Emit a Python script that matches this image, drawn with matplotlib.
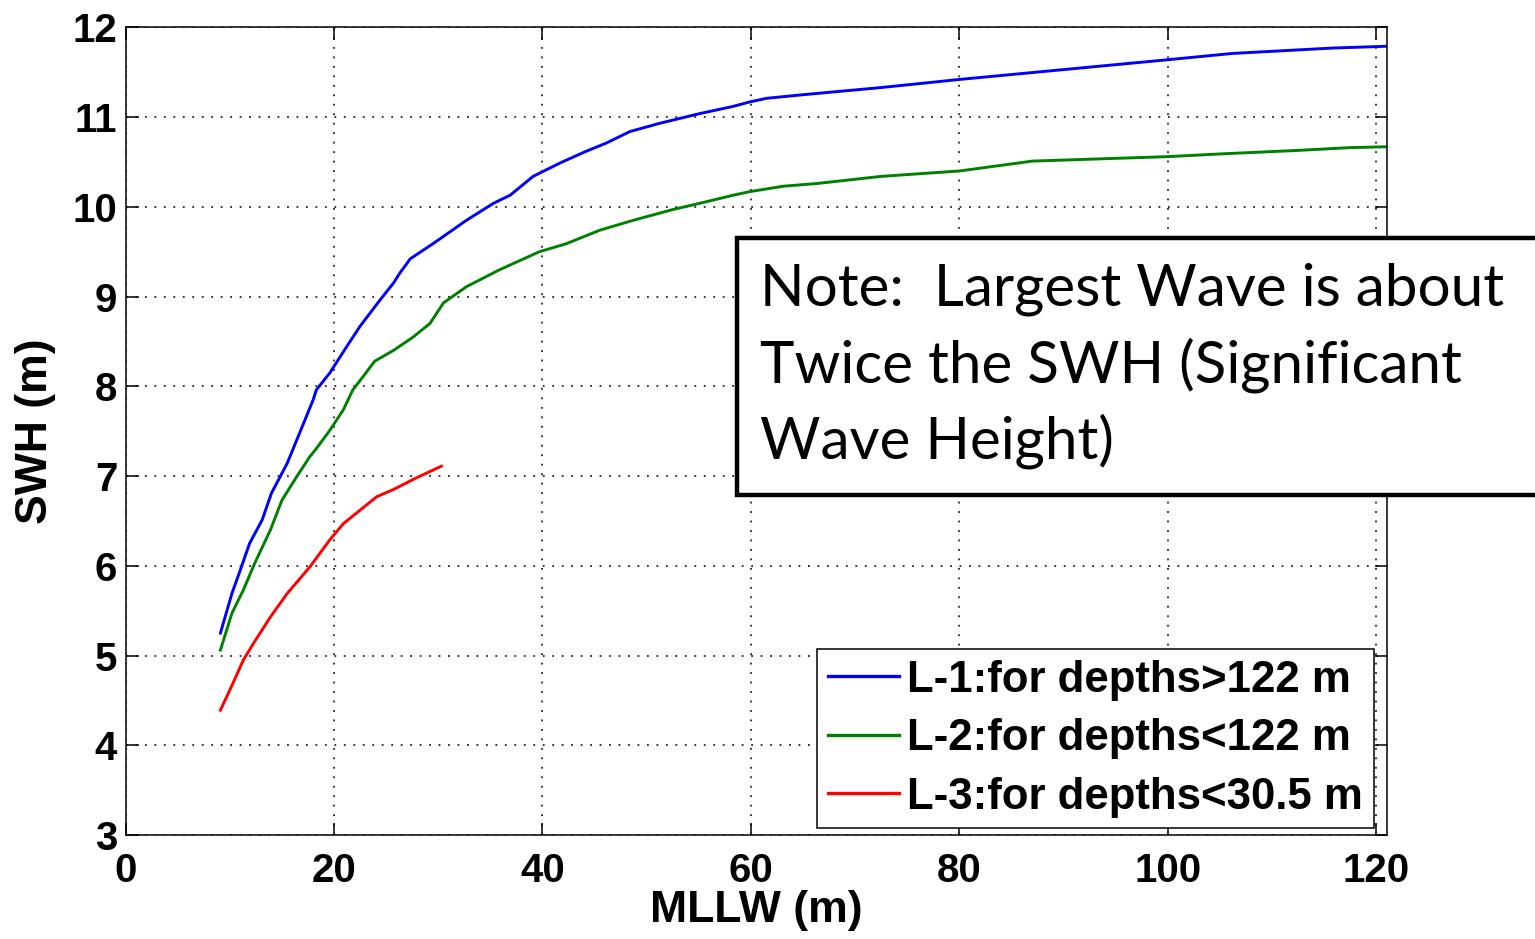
import matplotlib
matplotlib.use("Agg")
import matplotlib.pyplot as plt
from matplotlib.patches import Rectangle

# L-1: depths > 122 m
mllw_l1 = [9.1, 10.2, 11.0, 11.9, 13.1, 14.0, 15.5, 16.7, 18.0, 18.3, 19.6, 21.2, 22.5, 24.4, 25.7,
           26.3, 27.0, 27.3, 29.5, 32.7, 35.3, 36.9, 39.1, 41.7, 44.2, 46.1, 48.4, 51.2, 55.1, 58.3,
           59.9, 61.5, 65.0, 72.5, 80.0, 90.0, 100.0, 106.2, 109.4, 112.6, 115.8, 121.0]
swh_l1 = [5.25, 5.69, 5.95, 6.25, 6.51, 6.81, 7.14, 7.48, 7.85, 7.96, 8.15, 8.44, 8.67, 8.96, 9.15,
          9.26, 9.37, 9.42, 9.59, 9.85, 10.04, 10.13, 10.34, 10.49, 10.62, 10.71, 10.84, 10.93, 11.04, 11.12,
          11.17, 11.21, 11.25, 11.33, 11.42, 11.53, 11.64, 11.71, 11.73, 11.75, 11.77, 11.79]

# L-2: depths < 122 m
mllw_l2 = [9.1, 10.2, 11.3, 12.4, 13.9, 15.0, 16.4, 17.7, 18.2, 19.6, 20.9, 21.8, 22.8, 23.9, 25.7,
           27.6, 29.2, 30.5, 32.7, 35.9, 39.7, 42.3, 45.5, 48.7, 52.5, 55.1, 58.3, 59.9, 63.1, 66.3,
           72.5, 80.0, 87.0, 100.0, 105.0, 112.6, 117.4, 121.0]
swh_l2 = [5.06, 5.47, 5.73, 6.03, 6.40, 6.73, 6.99, 7.22, 7.29, 7.51, 7.74, 7.96, 8.11, 8.28, 8.40,
          8.55, 8.70, 8.93, 9.11, 9.30, 9.50, 9.59, 9.74, 9.85, 9.97, 10.04, 10.13, 10.17, 10.23, 10.26,
          10.34, 10.40, 10.51, 10.56, 10.59, 10.63, 10.66, 10.67]

# L-3: depths < 30.5 m
mllw_l3 = [9.1, 10.3, 11.3, 12.3, 13.9, 15.5, 17.7, 19.6, 20.9, 22.5, 24.1, 25.7, 27.9, 30.3]
swh_l3 = [4.39, 4.69, 4.95, 5.14, 5.43, 5.69, 5.99, 6.29, 6.47, 6.62, 6.77, 6.85, 6.98, 7.11]

labels = ["L-1:for depths>122 m", "L-2:for depths<122 m", "L-3:for depths<30.5 m"]
note = "Note:  Largest Wave is about\nTwice the SWH (Significant\nWave Height)"

plt.rcParams['font.family'] = ['Liberation Sans', 'DejaVu Sans']

fig = plt.figure(figsize=(15.35, 9.39), dpi=100)
fig.set_facecolor("white")
ax = fig.add_axes([0.0818, 0.1108, 0.8216, 0.86])

ax.plot(mllw_l1, swh_l1, color=(0, 0, 1), lw=2.1, label=labels[0])
ax.plot(mllw_l2, swh_l2, color=(0, 0.5, 0), lw=2.1, label=labels[1])
ax.plot(mllw_l3, swh_l3, color=(1, 0, 0), lw=2.1, label=labels[2])

ax.set_xlim(0, 121)
ax.set_ylim(3, 12)
ax.set_xticks(range(0, 121, 20))
ax.set_yticks(range(3, 13))
ax.grid(True, color='k', linestyle=(0, (1.2, 5)), lw=1.1)
ax.tick_params(direction='in', length=9, width=1.1, top=True, right=True,
               labelsize=29)
ax.tick_params(axis='x', pad=12)
ax.tick_params(axis='y', pad=6)
for lab in ax.get_xticklabels() + ax.get_yticklabels():
    lab.set_fontweight('bold')
for s in ax.spines.values():
    s.set_linewidth(1.1)

ax.set_xlabel("MLLW (m)", fontsize=32, fontweight='bold', labelpad=0)
ax.set_ylabel("SWH (m)", fontsize=32, fontweight='bold', labelpad=12)

leg = ax.legend(loc='lower right', bbox_to_anchor=(0.99, 0.008), borderaxespad=0,
                prop={'size': 31.5, 'weight': 'bold'}, handlelength=1.62, handletextpad=0.2,
                labelspacing=0.4, borderpad=0.25, fancybox=False, framealpha=1)
leg.get_frame().set_edgecolor('k')
leg.get_frame().set_linewidth(1.1)
for h in leg.get_lines():
    h.set_linewidth(2.4)

# note box, runs off the right edge of the figure
fig.patches.append(Rectangle((737 / 1535, 1 - 495 / 939), 0.6, (495 - 238) / 939,
                             transform=fig.transFigure, fill=True, facecolor='white',
                             edgecolor='k', lw=3.2, clip_on=False, zorder=5))
fig.text(760 / 1535, 1 - 263 / 939, note, fontsize=42, family=['Lato', 'DejaVu Sans'],
         va='top', ha='left', linespacing=1.45, zorder=6)

fig.savefig('out.png', dpi=100)
